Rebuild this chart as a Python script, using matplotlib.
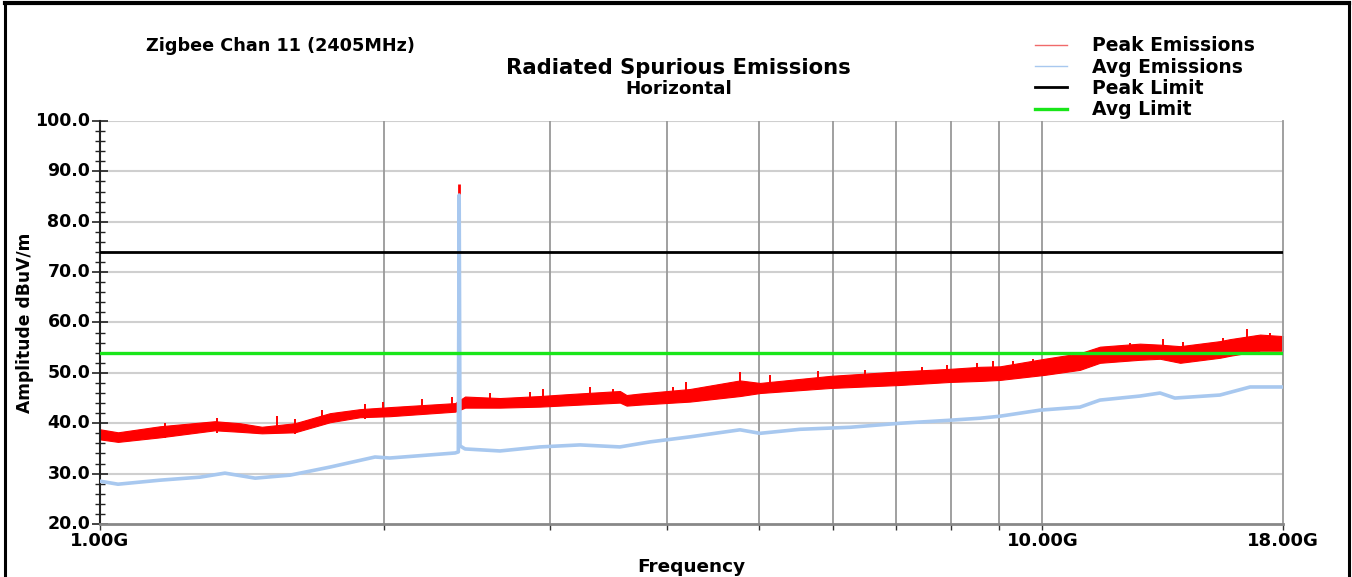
import matplotlib
matplotlib.use("Agg")
import matplotlib.pyplot as plt
from matplotlib.lines import Line2D
from matplotlib.ticker import FixedLocator, NullFormatter
from matplotlib.transforms import ScaledTranslation

plt.rcParams["font.family"] = ["DejaVu Sans"]
plt.rcParams["font.weight"] = "bold"

# Peak emissions envelope (GHz, dBuV/m)
peak_freq = [1.000, 1.045, 1.158, 1.324, 1.408, 1.485, 1.610, 1.754, 1.888, 2.030,
             2.381, 2.440, 2.657, 2.930, 3.152, 3.562, 3.620, 3.741, 4.227, 4.776,
             5.015, 5.952, 7.063, 7.978, 8.586, 9.016, 10.05, 10.96, 11.51, 12.69,
             13.33, 14.00, 15.43, 15.82, 17.02, 18.00]
peak_upper = [38.8, 38.2, 39.4, 40.4, 40.0, 39.3, 40.0, 42.0, 42.8, 43.2,
              44.0, 45.3, 45.0, 45.4, 45.8, 46.4, 45.6, 45.9, 46.8, 48.5,
              48.0, 49.4, 50.3, 50.8, 51.2, 51.3, 52.8, 53.9, 55.2, 55.8,
              55.6, 55.3, 56.3, 56.7, 57.6, 57.3]
peak_lower = [36.8, 36.3, 37.2, 38.6, 38.3, 38.0, 38.2, 40.2, 41.2, 41.4,
              42.3, 43.1, 43.1, 43.3, 43.6, 44.1, 43.5, 43.7, 44.3, 45.4,
              46.0, 47.0, 47.6, 48.2, 48.4, 48.6, 49.6, 50.6, 52.0, 52.6,
              52.8, 52.0, 53.0, 53.4, 54.4, 54.4]

# Isolated peak excursions above the envelope
spike_freq = [1.172, 1.331, 1.541, 1.610, 1.720, 1.911, 1.996, 2.196, 2.363, 2.593,
              2.860, 2.950, 3.311, 3.500, 4.055, 4.185, 4.776, 5.141, 5.780, 6.482,
              7.450, 7.920, 8.523, 8.863, 9.310, 9.773, 10.70, 12.38, 13.43, 14.10,
              15.54, 16.49, 17.44]
spike_top = [40.0, 41.0, 41.4, 40.8, 42.6, 43.8, 44.2, 44.8, 45.2, 46.0,
             46.2, 46.8, 47.2, 46.8, 47.2, 48.2, 50.2, 49.6, 50.4, 50.6,
             51.2, 51.6, 52.0, 52.3, 52.3, 52.8, 53.9, 55.9, 56.7, 56.2,
             57.0, 58.7, 58.0]

# Fundamental carrier
carrier_freq = 2.405
carrier_peak = 87.5
carrier_base = 43.5

# Average emissions trace
avg_freq = [1.000, 1.045, 1.158, 1.277, 1.357, 1.461, 1.591, 1.754, 1.958, 2.030,
            2.381, 2.400, 2.405, 2.410, 2.440, 2.657, 2.930, 3.231, 3.562, 3.834,
            4.227, 4.776, 5.015, 5.531, 6.250, 7.063, 7.978, 8.586, 9.016, 9.940,
            10.96, 11.51, 12.69, 13.33, 13.82, 15.43, 16.61, 18.00]
avg_level = [28.5, 27.9, 28.7, 29.3, 30.1, 29.1, 29.7, 31.3, 33.3, 33.1,
             34.1, 34.3, 85.3, 35.5, 34.9, 34.5, 35.3, 35.7, 35.3, 36.3,
             37.3, 38.7, 38.0, 38.8, 39.2, 40.0, 40.6, 41.0, 41.4, 42.6,
             43.2, 44.6, 45.4, 46.0, 45.0, 45.6, 47.2, 47.2]

peak_limit = 74.0
avg_limit = 54.0

x_major = [1, 10, 18]
x_major_labels = ["1.00G", "10.00G", "18.00G"]
x_minor = [2, 3, 4, 5, 6, 7, 8, 9]

RED = "#ff0000"
BLUE = "#a8c8ef"
GREEN = "#19e619"

fig = plt.figure(figsize=(13.52, 5.77), dpi=100)
ax = fig.add_axes([100 / 1352, 1 - 524 / 577, 1183 / 1352, 403 / 577])

ax.set_xscale("log")
ax.set_xlim(1, 18)
ax.set_ylim(20, 100)

# grid
for yv in range(30, 101, 10):
    ax.axhline(yv, color="#cfcfcf", lw=1.5, zorder=0)
for xv in x_minor + [10]:
    ax.axvline(xv, color="#999999", lw=1.3, zorder=0)

# peak emissions
ax.fill_between(peak_freq, peak_lower, peak_upper, color=RED, lw=0.8, edgecolor=RED, zorder=2)
ax.vlines(spike_freq, [t - 3.0 for t in spike_top], spike_top, color=RED, lw=1.4, zorder=2)
ax.vlines([carrier_freq], [carrier_base], [carrier_peak], color=RED, lw=2.0, zorder=2)

# average emissions
ax.plot(avg_freq, avg_level, color=BLUE, lw=2.6, zorder=3)

# limits
ax.axhline(peak_limit, color="black", lw=2.0, zorder=4)
ax.axhline(avg_limit, color=GREEN, lw=2.4, zorder=4)

# axes styling
ax.spines["top"].set_visible(False)
ax.spines["left"].set_color("#222222")
ax.spines["left"].set_linewidth(1.5)
ax.spines["bottom"].set_color("#888888")
ax.spines["bottom"].set_linewidth(2.0)
ax.spines["right"].set_color("#999999")
ax.spines["right"].set_linewidth(1.3)

ax.xaxis.set_major_locator(FixedLocator(x_major))
ax.xaxis.set_minor_locator(FixedLocator(x_minor))
ax.set_xticklabels(x_major_labels)
ax.xaxis.set_minor_formatter(NullFormatter())
ax.tick_params(axis="x", which="both", direction="out", length=4, width=1.0,
               color="#333333", labelsize=13, pad=1.5)

ax.yaxis.set_major_locator(FixedLocator(list(range(20, 101, 10))))
ax.yaxis.set_minor_locator(FixedLocator(list(range(20, 101, 2))))
ax.set_yticklabels([f"{v:.1f}" for v in range(20, 101, 10)])
ax.tick_params(axis="y", which="major", direction="inout", length=12, width=1.2,
               color="#222222", labelsize=12.5, pad=1)
ax.tick_params(axis="y", which="minor", direction="inout", length=7, width=1.0,
               color="#222222")
lift = ScaledTranslation(0, 2 / 100, fig.dpi_scale_trans)
for lbl in ax.get_yticklabels():
    lbl.set_verticalalignment("center_baseline")
    lbl.set_transform(lbl.get_transform() + lift)

ax.set_xlabel("Frequency", fontsize=13.3, fontweight="bold", labelpad=6)
ax.set_ylabel("Amplitude dBuV/m", fontsize=12.3, fontweight="bold", labelpad=1)

# titles
fig.text(678 / 1352, 1 - 68 / 577, "Radiated Spurious Emissions", ha="center", va="center",
         fontsize=15.2, fontweight="bold")
fig.text(679 / 1352, 1 - 89 / 577, "Horizontal", ha="center", va="center",
         fontsize=13.2, fontweight="bold")
fig.text(146 / 1352, 1 - 46 / 577, "Zigbee Chan 11 (2405MHz)", ha="left", va="center",
         fontsize=12.7, fontweight="bold")

handles = [
    Line2D([], [], color="#f06a6a", lw=1.0),
    Line2D([], [], color=BLUE, lw=1.0),
    Line2D([], [], color="black", lw=2.0),
    Line2D([], [], color=GREEN, lw=2.4),
]
labels = ["Peak Emissions", "Avg Emissions", "Peak Limit", "Avg Limit"]
fig.legend(handles, labels, loc="upper left", bbox_to_anchor=(1026 / 1352, 1 - 27 / 577),
           frameon=False, prop={"weight": "bold", "size": 13.5}, handlelength=1.7,
           handletextpad=1.3, labelspacing=0.12, borderpad=0)

# outer frame
fig.add_artist(Line2D([5 / 1352, 5 / 1352], [0, 1 - 3 / 577], color="black", lw=2.2,
                      transform=fig.transFigure))
fig.add_artist(Line2D([1349 / 1352, 1349 / 1352], [0, 1 - 3 / 577], color="black", lw=2.2,
                      transform=fig.transFigure))
fig.add_artist(Line2D([5 / 1352, 1349 / 1352], [1 - 3 / 577, 1 - 3 / 577], color="black", lw=3.0,
                      transform=fig.transFigure))

fig.savefig("out.png", dpi=100)
